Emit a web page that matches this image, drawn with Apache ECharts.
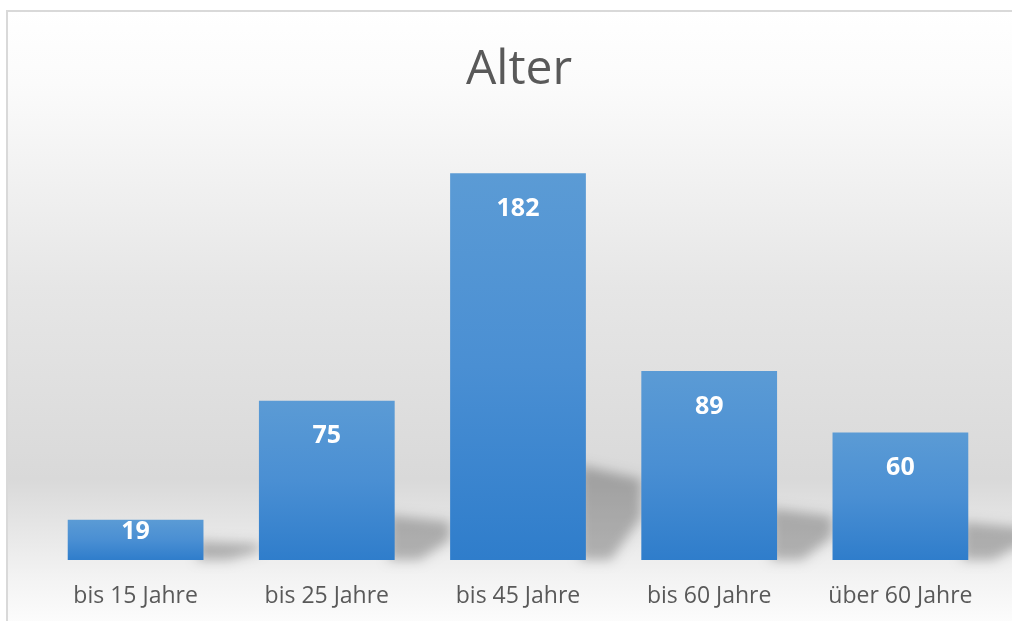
<!DOCTYPE html>
<html>
<head>
<meta charset="utf-8">
<script src="https://cdn.jsdelivr.net/npm/echarts@6/dist/echarts.min.js"></script>
<style>
  html, body { margin: 0; padding: 0; background: #fff; }
  #chart { width: 1012px; height: 621px; }
</style>
</head>
<body>
<div id="chart"></div>
<script>
// Age groups and counts
const categories = ["bis 15 Jahre", "bis 25 Jahre", "bis 45 Jahre", "bis 60 Jahre", "über 60 Jahre"];
const counts = [19, 75, 182, 89, 60];
const titleText = "Alter";

const FONT = '"Open Sans", "Noto Sans", sans-serif';
const GREY = "#595959";
const BAR_FRAC = 0.71;
const SHIFT = 2000; // draw shadow shape off-canvas, keep only its blurred shadow

const chart = echarts.init(document.getElementById("chart"), null, { renderer: "canvas" });

// Excel-like soft cast shadow to the lower right of each bar
function shadowItem(params, api) {
  const idx = api.value(0);
  const top = api.coord([idx, api.value(1)]);
  const base = api.coord([idx, 0]);
  const band = api.size([1, 0])[0];
  const xr = base[0] + band * BAR_FRAC / 2 + SHIFT;
  const h = base[1] - top[1];
  const sh = h * 0.22 + 10;
  const w = band * 0.29;
  return {
    type: "polygon",
    shape: {
      points: [
        [xr - 6, base[1]],
        [xr - 6, base[1] - sh],
        [xr + w, base[1] - sh * 0.85],
        [xr + w, base[1] - sh * 0.45],
        [xr + w * 0.45, base[1]],
      ],
    },
    style: {
      fill: "#000",
      shadowBlur: 12,
      shadowColor: "rgba(0,0,0,0.26)",
      shadowOffsetX: -SHIFT,
    },
  };
}

chart.setOption({
  animation: false,
  backgroundColor: "#ffffff",
  graphic: [{
    type: "rect",
    z: -10,
    silent: true,
    shape: { x: 7, y: 11, width: 1010, height: 615 },
    style: {
      fill: new echarts.graphic.LinearGradient(0, 0, 0, 1, [
        { offset: 0, color: "#ffffff" },
        { offset: 0.12, color: "#fbfbfb" },
        { offset: 0.45, color: "#e6e6e6" },
        { offset: 0.76, color: "#d9d9d9" },
        { offset: 0.92, color: "#f3f3f3" },
        { offset: 1, color: "#fdfdfd" },
      ]),
      stroke: "#d9d9d9",
      lineWidth: 2,
    },
  }],
  title: {
    text: titleText,
    left: 461,
    top: 41,
    textStyle: { fontFamily: FONT, fontSize: 48, fontWeight: "normal", color: GREY },
  },
  grid: { left: 40, right: 16, top: 135, bottom: 61, containLabel: false },
  xAxis: {
    type: "category",
    data: categories,
    axisLine: { show: false },
    axisTick: { show: false },
    axisLabel: { fontFamily: FONT, fontSize: 23, color: GREY, margin: 25 },
  },
  yAxis: {
    type: "value",
    min: 0,
    max: 200,
    show: false,
    splitLine: { show: false },
  },
  series: [{
    type: "custom",
    z: 1,
    silent: true,
    renderItem: shadowItem,
    data: counts.map((v, i) => [i, v]),
    clip: false,
  }, {
    type: "bar",
    z: 2,
    data: counts.map((v) => ({
      value: v,
      // short bars: Excel pulls the label up to the bar's top edge
      label: { distance: v < 30 ? 0 : 23 },
    })),
    barWidth: (BAR_FRAC * 100) + "%",
    itemStyle: {
      color: new echarts.graphic.LinearGradient(0, 0, 0, 1, [
        { offset: 0, color: "#5b9bd5" },
        { offset: 0.5, color: "#4a8fd3" },
        { offset: 1, color: "#2f7dcb" },
      ]),
    },
    label: {
      show: true,
      position: "insideTop",
      color: "#ffffff",
      fontFamily: FONT,
      fontSize: 25,
      fontWeight: "bold",
    },
  }],
});
</script>
</body>
</html>
